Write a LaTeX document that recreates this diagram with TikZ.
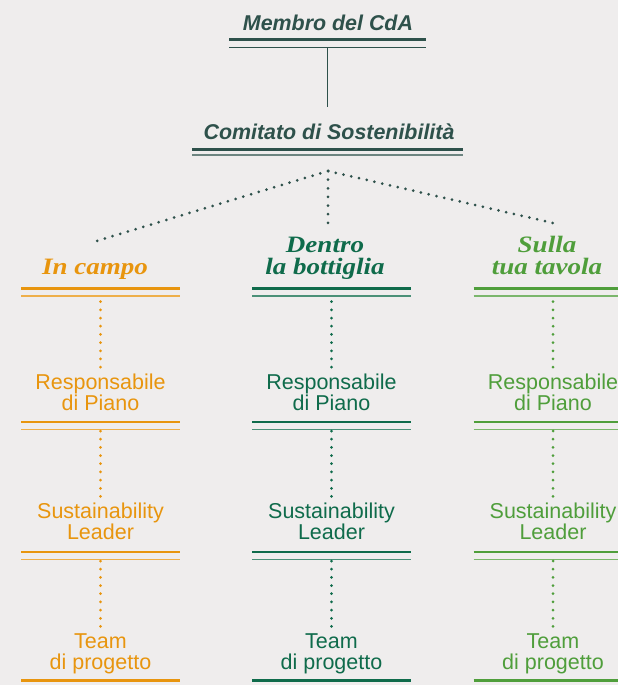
\documentclass[tikz,border=0pt]{standalone}
\usepackage{fontspec}
\setmainfont{Liberation Sans}
\newfontfamily\headfont[FakeStretch=1.15]{Liberation Serif}
\definecolor{bg}{HTML}{EFEDED}
\definecolor{teal}{HTML}{2E514B}
\definecolor{orng}{HTML}{E8950E}
\definecolor{dgreen}{HTML}{0F6B4B}
\definecolor{lgreen}{HTML}{4F9E3B}
\tikzset{
  lbl/.style={font=\fontsize{21.5}{21.3}\selectfont, align=center, inner sep=0pt, anchor=base},
  hdr/.style={font=\headfont\bfseries\itshape\fontsize{23.5}{21.5}\selectfont, align=center, inner sep=0pt, anchor=base},
  toptitle/.style={font=\bfseries\itshape\fontsize{21.4}{21.4}\selectfont, text=teal, inner sep=0pt, anchor=base},
  thickrule/.style={line width=2.6pt},
  thinrule/.style={line width=1.2pt},
  dots/.style={line width=3pt, line cap=round, dash pattern=on 0pt off #1pt},
  dots/.default=8.18,
  linkline/.style={line width=1pt, teal}
}
\begin{document}
\begin{tikzpicture}[x=1pt,y=-1pt]
\fill[bg] (0,0) rectangle (618,685);
\useasboundingbox (0,0) rectangle (618,685);
% top titles
\node[toptitle] (membro) at (328,30.7) {Membro del CdA};
\draw[teal, thickrule] (229,39.3) -- (426,39.3);
\draw[teal, thinrule] (229,47.3) -- (426,47.3);
\node[toptitle] (comitato) at (329,139) {Comitato di Sostenibilità};
\draw[teal, thickrule] (192,149.3) -- (463,149.3);
\draw[teal!70, thinrule] (192,155) -- (463,155);
\coordinate (m-out) at (327.7,48);
\coordinate (c-in) at (327.7,107);
\draw[linkline] (m-out) -- (c-in);
\coordinate (apex) at (328,171);
\coordinate (a-in) at (96.7,241);
\coordinate (b-in) at (328,223);
\coordinate (c-in2) at (553,223);
\draw[dots=8.04, teal] (apex) -- (a-in);
\draw[dots=8.64, teal] (apex) -- (b-in);
\draw[dots=7.95, teal] (apex) -- (c-in2);
% columns
\foreach \cx/\hx/\col/\nm/\htext in {100.5/95/orng/a/{In campo}, 331.5/325/dgreen/b/{Dentro\\la bottiglia}, 553/547/lgreen/c/{Sulla\\tua tavola}}{
  \node[hdr, text=\col] (\nm-h) at (\hx,274) {\htext};
  \node[lbl, text=\col] (\nm-r) at (\cx,410.5) {Responsabile\\di Piano};
  \node[lbl, text=\col] (\nm-s) at (\cx,539.6) {Sustainability\\Leader};
  \node[lbl, text=\col] (\nm-t) at (\cx,669.6) {Team\\di progetto};
  \foreach \y in {288.3,422,552,680.7}{
    \draw[\col, thickrule] (\cx-79.3,\y) -- (\cx+79.3,\y);
  }
  \foreach \y in {296,429.3,559.5}{
    \draw[\col!75!white, thinrule] (\cx-79.3,\y) -- (\cx+79.3,\y);
  }
  \coordinate (\nm-h-out) at (\cx,301.7);
  \coordinate (\nm-r-in) at (\cx,367.3);
  \coordinate (\nm-r-out) at (\cx,431);
  \coordinate (\nm-s-in) at (\cx,496.6);
  \coordinate (\nm-s-out) at (\cx,561);
  \coordinate (\nm-t-in) at (\cx,626.6);
  \draw[dots, \col] (\nm-h-out) -- (\nm-r-in);
  \draw[dots, \col] (\nm-r-out) -- (\nm-s-in);
  \draw[dots, \col] (\nm-s-out) -- (\nm-t-in);
}
\end{tikzpicture}
\end{document}
